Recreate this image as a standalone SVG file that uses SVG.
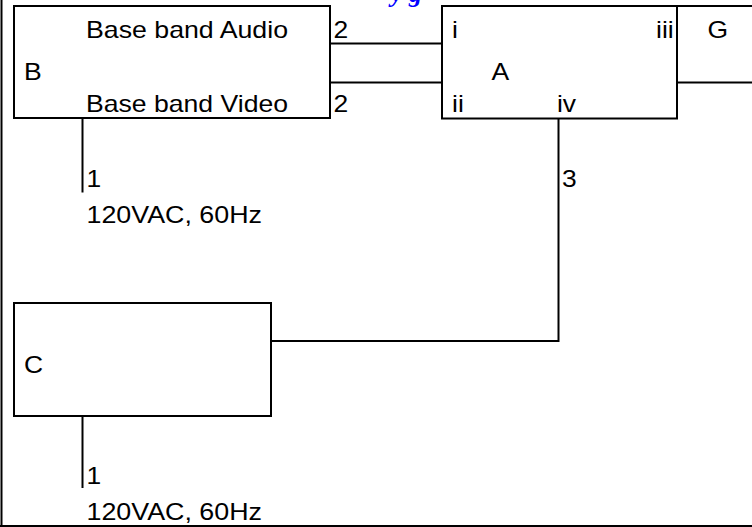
<svg xmlns="http://www.w3.org/2000/svg" width="752" height="527" viewBox="0 0 752 527">
<style>
.box{fill:none;stroke:#000;stroke-width:2}
.ln{fill:none;stroke:#000;stroke-width:2}
text{font-family:"Liberation Sans",Arial,sans-serif;font-size:24px;fill:#000}
.cap{font-family:"Liberation Serif","Times New Roman",serif;font-weight:bold;font-style:italic;fill:#0000ff;font-size:26px}
</style>
<rect x="0" y="0" width="752" height="527" fill="#fff"/>
<g id="frame">
<line class="ln" x1="1.5" y1="0" x2="1.5" y2="527" stroke-width="2.5"/>
<line class="ln" x1="0" y1="526" x2="752" y2="526"/>
<text class="cap" x="391" y="1.5">y g</text>
</g>
<g id="connectors">
<line class="ln" x1="330" y1="43.5" x2="442" y2="43.5"/>
<line class="ln" x1="330" y1="82.5" x2="442" y2="82.5"/>
<line class="ln" x1="677" y1="6" x2="752" y2="6"/>
<line class="ln" x1="677" y1="82.5" x2="752" y2="82.5"/>
<line class="ln" x1="82.5" y1="118" x2="82.5" y2="192.5"/>
<polyline class="ln" points="558.5,118 558.5,341 271,341"/>
<line class="ln" x1="82.5" y1="416" x2="82.5" y2="488"/>
</g>
<g id="B">
<rect class="box" x="14" y="6" width="316" height="112"/>
<text x="86" y="37.5" textLength="202" lengthAdjust="spacingAndGlyphs">Base band Audio</text>
<text x="24" y="80" textLength="17.7" lengthAdjust="spacingAndGlyphs">B</text>
<text x="86" y="112" textLength="202" lengthAdjust="spacingAndGlyphs">Base band Video</text>
<text x="333.5" y="37.5" textLength="14.7" lengthAdjust="spacingAndGlyphs">2</text>
<text x="333.5" y="112" textLength="14.7" lengthAdjust="spacingAndGlyphs">2</text>
</g>
<g id="A">
<rect class="box" x="442" y="6" width="235" height="112.5"/>
<text x="452" y="37.5" textLength="5.9" lengthAdjust="spacingAndGlyphs">i</text>
<text x="656" y="37.5" textLength="17.7" lengthAdjust="spacingAndGlyphs">iii</text>
<text x="491.5" y="80" textLength="17.7" lengthAdjust="spacingAndGlyphs">A</text>
<text x="452" y="112" textLength="11.8" lengthAdjust="spacingAndGlyphs">ii</text>
<text x="557" y="112" textLength="19.1" lengthAdjust="spacingAndGlyphs">iv</text>
<text x="562" y="187" textLength="14.7" lengthAdjust="spacingAndGlyphs">3</text>
</g>
<g id="G">
<text x="707.5" y="37.5" textLength="20.6" lengthAdjust="spacingAndGlyphs">G</text>
</g>
<g id="power1">
<text x="86.5" y="187" textLength="14.7" lengthAdjust="spacingAndGlyphs">1</text>
<text x="86.5" y="223" textLength="175.5" lengthAdjust="spacingAndGlyphs">120VAC, 60Hz</text>
</g>
<g id="C">
<rect class="box" x="14" y="303" width="257" height="113"/>
<text x="24" y="372.5" textLength="19.1" lengthAdjust="spacingAndGlyphs">C</text>
</g>
<g id="power2">
<text x="86.5" y="484" textLength="14.7" lengthAdjust="spacingAndGlyphs">1</text>
<text x="86.5" y="520" textLength="175.5" lengthAdjust="spacingAndGlyphs">120VAC, 60Hz</text>
</g>
</svg>
